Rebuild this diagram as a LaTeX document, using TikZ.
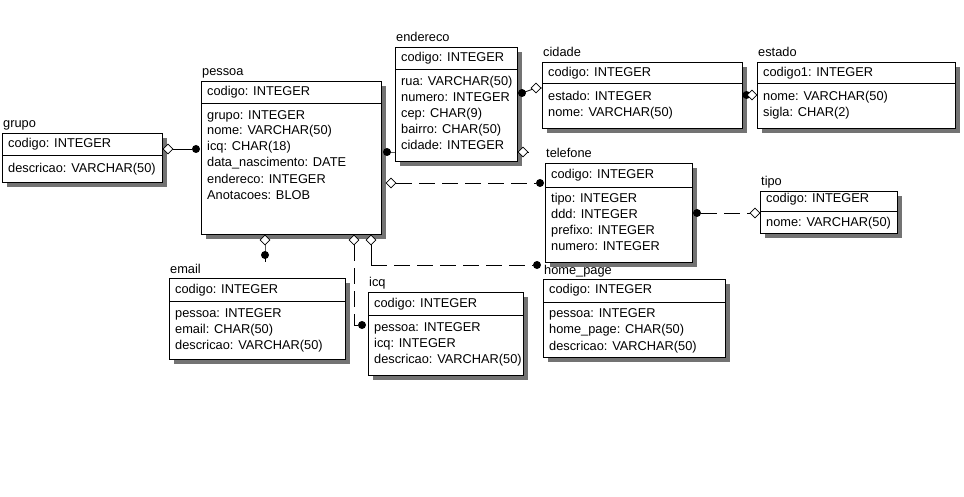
\documentclass[tikz,border=0pt]{standalone}
\usepackage{fontspec}
\setmainfont{Liberation Sans}
\usetikzlibrary{shapes.geometric}
\pgfdeclarelayer{back}
\pgfdeclarelayer{bg}
\pgfdeclarelayer{fg}
\pgfsetlayers{back,bg,main,fg}
\tikzset{
  tbl/.style={draw, fill=white, line width=0.8pt, anchor=north west, inner sep=0pt, outer sep=0pt},
  shadowfill/.style={fill=black!55},
  ttl/.style={anchor=base west, inner sep=0pt, font=\fontsize{12.8}{15}\selectfont},
  txt/.style={anchor=base west, inner sep=0pt, font=\fontsize{12.8}{15}\selectfont},
  dot/.style={circle, fill=black, minimum size=8pt, inner sep=0pt},
  dia/.style={diamond, draw, fill=white, minimum size=10pt, inner sep=0pt, line width=0.8pt},
  rel/.style={line width=0.8pt},
  nrel/.style={line width=0.8pt, dash pattern=on 16pt off 7pt},
}
% #1 name, #2 L, #3 T, #4 R, #5 divider, #6 B, #7 title
\newcommand\ertable[7]{%
  \fill[shadowfill] (#2+5,#3+5) rectangle (#4+5,#6+5);
  \node[tbl, minimum width={#4-#2}, minimum height={#6-#3}] (#1) at (#2,#3) {};
  \draw[line width=0.8pt] (#2,#5) -- (#4,#5);
  \node[ttl] (#1-title) at (#2+1,#3-5) {#7};
}
\begin{document}
\begin{tikzpicture}[x=1pt,y=-1pt]
\begin{pgfonlayer}{back}
\fill[white] (0,0) rectangle (964,497);
\end{pgfonlayer}
\useasboundingbox (0,0) rectangle (964,497);

% tables
\ertable{grupo}{2}{133}{162}{155}{182}{grupo}
\node[txt] (grupo-0) at (8,148) {codigo: INTEGER};
\node[txt] (grupo-1) at (8,173) {descricao: VARCHAR(50)};

\ertable{pessoa}{201}{81}{381}{103}{234}{pessoa}
\node[txt] (pessoa-0) at (207,96) {codigo: INTEGER};
\node[txt] (pessoa-1) at (207,120) {grupo: INTEGER};
\node[txt] (pessoa-2) at (207,135) {nome: VARCHAR(50)};
\node[txt] (pessoa-3) at (207,151) {icq: CHAR(18)};
\node[txt] (pessoa-4) at (207,167) {data\_nascimento: DATE};
\node[txt] (pessoa-5) at (207,184) {endereco: INTEGER};
\node[txt] (pessoa-6) at (207,200) {Anotacoes: BLOB};

\ertable{endereco}{395}{47}{517}{69}{161}{endereco}
\node[txt] (endereco-0) at (401,62) {codigo: INTEGER};
\node[txt] (endereco-1) at (401,86) {rua: VARCHAR(50)};
\node[txt] (endereco-2) at (401,102) {numero: INTEGER};
\node[txt] (endereco-3) at (401,118) {cep: CHAR(9)};
\node[txt] (endereco-4) at (401,134) {bairro: CHAR(50)};
\node[txt] (endereco-5) at (401,150) {cidade: INTEGER};

\ertable{cidade}{542}{62}{742}{83}{128}{cidade}
\node[txt] (cidade-0) at (548,77) {codigo: INTEGER};
\node[txt] (cidade-1) at (548,101) {estado: INTEGER};
\node[txt] (cidade-2) at (548,117) {nome: VARCHAR(50)};

\ertable{estado}{757}{62}{955}{83}{128}{estado}
\node[txt] (estado-0) at (763,77) {codigo1: INTEGER};
\node[txt] (estado-1) at (763,101) {nome: VARCHAR(50)};
\node[txt] (estado-2) at (763,117) {sigla: CHAR(2)};

\ertable{telefone}{545}{163}{692}{187}{262}{telefone}
\node[txt] (telefone-0) at (551,179) {codigo: INTEGER};
\node[txt] (telefone-1) at (551,203) {tipo: INTEGER};
\node[txt] (telefone-2) at (551,219) {ddd: INTEGER};
\node[txt] (telefone-3) at (551,235) {prefixo: INTEGER};
\node[txt] (telefone-4) at (551,251) {numero: INTEGER};

\ertable{tipo}{760}{191}{897}{211}{233}{tipo}
\node[txt] (tipo-0) at (766,203) {codigo: INTEGER};
\node[txt] (tipo-1) at (766,227) {nome: VARCHAR(50)};

\ertable{email}{169}{278}{345}{301}{359}{email}
\node[txt] (email-0) at (175,293) {codigo: INTEGER};
\node[txt] (email-1) at (175,317) {pessoa: INTEGER};
\node[txt] (email-2) at (175,333) {email: CHAR(50)};
\node[txt] (email-3) at (175,349) {descricao: VARCHAR(50)};

\ertable{icq}{368}{292}{523}{315}{375}{icq}
\node[txt] (icq-0) at (374,307) {codigo: INTEGER};
\node[txt] (icq-1) at (374,331) {pessoa: INTEGER};
\node[txt] (icq-2) at (374,347) {icq: INTEGER};
\node[txt] (icq-3) at (374,363) {descricao: VARCHAR(50)};

\ertable{home}{543}{279}{725}{302}{357}{home\_page}
\node[txt] (home-0) at (549,293) {codigo: INTEGER};
\node[txt] (home-1) at (549,317) {pessoa: INTEGER};
\node[txt] (home-2) at (549,333) {home\_page: CHAR(50)};
\node[txt] (home-3) at (549,350) {descricao: VARCHAR(50)};

% relationship ends
\begin{pgfonlayer}{fg}
\node[dia] (gp-a) at (168,149) {};
\node[dot] (gp-b) at (196,149) {};
\node[dot] (pe-b) at (387,152) {};
\node[dia] (pe-a) at (523,152) {};
\coordinate (pe-end) at (529,152);
\node[dot] (ec-b) at (522,93) {};
\node[dia] (ec-a) at (536,88) {};
\coordinate (ec-end) at (542,88);
\node[dot] (ce-b) at (746.5,95) {};
\node[dia] (ce-a) at (752,95) {};
\node[dia] (pt-a) at (391,183) {};
\node[dot] (pt-b) at (540,183) {};
\node[dot] (tt-b) at (697,213) {};
\node[dia] (tt-a) at (755,213) {};
\node[dia] (pm-a) at (265,240) {};
\node[dot] (pm-b) at (265,255) {};
\coordinate (pm-end) at (265,262);
\node[dia] (pi-a) at (354,240) {};
\coordinate (pi-c) at (354,325);
\node[dot] (pi-b) at (362,325) {};
\node[dia] (ph-a) at (371,240) {};
\coordinate (ph-c) at (371,265);
\node[dot] (ph-b) at (537,265) {};
\end{pgfonlayer}

\begin{pgfonlayer}{bg}
\draw[rel] (gp-a) -- (gp-b);
\draw[rel] (pe-b.center) -- (pe-a.center) -- (pe-end);
\draw[rel] (ec-b.center) -- (ec-a.center) -- (ec-end);
\draw[rel] (ce-b.center) -- (ce-a.center);
\draw[nrel] (pt-a) -- (pt-b);
\draw[nrel] (tt-b) -- (tt-a);
\draw[rel] (pm-a) -- (pm-b.center) -- (pm-end);
\draw[nrel] (pi-a) -- (pi-c) -- (pi-b);
\draw[rel] (ph-a) -- (ph-c);
\draw[nrel] (ph-c) -- (ph-b);
\end{pgfonlayer}
\end{tikzpicture}
\end{document}
